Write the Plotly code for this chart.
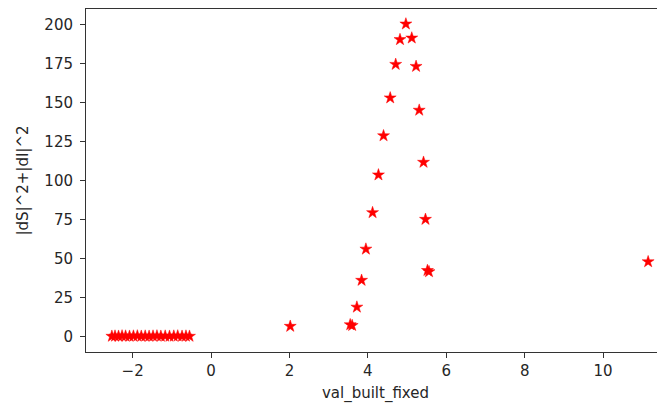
import plotly.graph_objects as go

# cluster of near-zero points
cluster_x = [-2.53, -2.45, -2.36, -2.27, -2.18, -2.08, -1.98, -1.88, -1.78, -1.68,
             -1.58, -1.48, -1.38, -1.28, -1.17, -1.06, -0.95, -0.85, -0.74, -0.64, -0.55]
cluster_y = [0.1, 0.2, 0.1, 0.3, 0.2, 0.1, 0.2, 0.3, 0.1, 0.2,
             0.1, 0.2, 0.3, 0.1, 0.2, 0.1, 0.2, 0.3, 0.1, 0.2, 0.1]

peak_x = [2.02, 3.55, 3.6, 3.72, 3.84, 3.95, 4.12, 4.27, 4.40, 4.57, 4.71, 4.82,
          4.97, 5.12, 5.23, 5.31, 5.42, 5.47, 5.52, 5.56, 11.15]
peak_y = [6.5, 7.5, 7.0, 18.8, 36.0, 56.0, 79.4, 103.6, 128.7, 153.0, 174.5, 190.4,
          200.4, 191.4, 173.2, 145.1, 111.7, 75.1, 42.3, 41.5, 47.9]

x_vals = cluster_x + peak_x
y_vals = cluster_y + peak_y

x_ticks = [-2, 0, 2, 4, 6, 8, 10]
x_tick_text = ["\u22122", "0", "2", "4", "6", "8", "10"]
y_ticks = [0, 25, 50, 75, 100, 125, 150, 175, 200]

fig = go.Figure()
fig.add_trace(go.Scatter(
    x=x_vals, y=y_vals, mode="markers",
    marker=dict(symbol="star", size=9, color="red", line=dict(color="red", width=0.5)),
    showlegend=False,
))

font = dict(family="DejaVu Sans", size=15, color="#262626")
# page body has an 8px offset; margins compensate so the plot area lands where the reference has it
fig.update_layout(
    width=665, height=406,
    margin=dict(l=78, r=8, t=1, b=62),
    paper_bgcolor="white", plot_bgcolor="white",
    font=font,
)
fig.update_xaxes(
    range=[-3.19, 11.58], tickvals=x_ticks, ticktext=x_tick_text,
    showgrid=False, zeroline=False, automargin=False,
    showline=True, linecolor="#333", linewidth=1, mirror=True,
    ticks="outside", ticklen=5, tickcolor="#333", tickfont=font,
    title=dict(text="val_built_fixed", font=font, standoff=8),
)
fig.update_yaxes(
    range=[-10, 210], tickvals=y_ticks,
    showgrid=False, zeroline=False, automargin=False,
    showline=True, linecolor="#333", linewidth=1,
    ticks="outside", ticklen=5, tickcolor="#333", tickfont=font,
    ticklabelstandoff=4,
    title=dict(text="|dS|^2+|dI|^2", font=font, standoff=12),
)

fig.write_html("out.html")
